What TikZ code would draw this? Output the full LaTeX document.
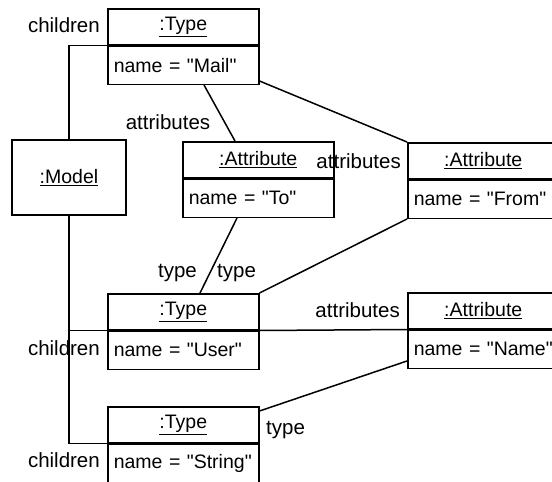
\documentclass[tikz,border=0pt]{standalone}
\usepackage{fontspec}
\setmainfont{Liberation Sans}[Ligatures=TeXOff]
\usetikzlibrary{calc}
\begin{document}
\begin{tikzpicture}[x=1pt,y=-1pt,
  every node/.style={font=\fontsize{19.5}{22}\selectfont},
  objhead/.style={draw, line width=1.5pt, minimum width=151pt, minimum height=36pt,
    inner sep=0pt, anchor=north west},
  objbody/.style={draw, line width=1.5pt, minimum width=151pt, minimum height=38pt,
    text width=139pt, inner xsep=6pt, inner ysep=0pt, align=left, anchor=north},
  objbox/.style={draw, line width=1.5pt, minimum width=114pt, minimum height=75pt, inner sep=0pt},
  role/.style={inner sep=0pt, font=\fontsize{20.5}{23}\selectfont},
  link/.style={line width=1.5pt}]
\useasboundingbox (0,0) rectangle (552,482);
\clip (0,0) rectangle (552,482);
\fill[white] (0,0) rectangle (552,482);

% object boxes
\node[objbox] (model) at (69,177.5) {\underline{:Model}};

\node[objhead] (mailH) at (107,8) {\underline{:Type}};
\node[objbody] (mailB) at (mailH.south) {\mbox{name = "Mail"}};

\node[objhead] (toH) at (182,141) {\underline{:Attribute}};
\node[objbody] (toB) at (toH.south) {\mbox{name = "To"}};

\node[objhead] (fromH) at (407,142) {\underline{:Attribute}};
\node[objbody] (fromB) at (fromH.south) {\mbox{name = "From"}};

\node[objhead] (userH) at (107,293) {\underline{:Type}};
\node[objbody] (userB) at (userH.south) {\mbox{name = "User"}};

\node[objhead] (nameH) at (407,292) {\underline{:Attribute}};
\node[objbody] (nameB) at (nameH.south) {\mbox{name = "Name"}};

\node[objhead] (stringH) at (107,406) {\underline{:Type}};
\node[objbody] (stringB) at (stringH.south) {\mbox{name = "String"}};

% children links
\draw[link] (mailB.north west) -| (model.north);
\draw[link] (model.south) |- (stringB.north west);
\draw[link] (userB.north west) -- (model.south |- userB.north west);

% attribute links
\draw[link] ([xshift=97pt]mailB.south west) -- ([xshift=53pt]toH.north west);
\draw[link] ([yshift=4pt]mailB.south east) -- (fromH.north west);
\draw[link] (userB.north east) -- (nameB.north west);

% type links
\draw[link] ([xshift=55pt]toB.south west) -- ([xshift=93pt]userH.north west);
\draw[link] (fromB.south west) -- (userH.north east);
\draw[link] ([yshift=-5pt]stringH.north east) -- ([yshift=8pt]nameB.south west);

% role names
\node[role, anchor=east] (chA) at (100,25) {children};
\node[role] (atA) at (168,122) {attributes};
\node[role, anchor=east] (atB) at (401,161) {attributes};
\node[role, anchor=east] (tyA) at (197,273) {type};
\node[role, anchor=west] (tyB) at (217,273) {type};
\node[role, anchor=east] (chB) at (100,348) {children};
\node[role, anchor=east] (atC) at (400,310) {attributes};
\node[role, anchor=east] (chC) at (100,460) {children};
\node[role, anchor=west] (tyC) at (266,430) {type};
\end{tikzpicture}
\end{document}
